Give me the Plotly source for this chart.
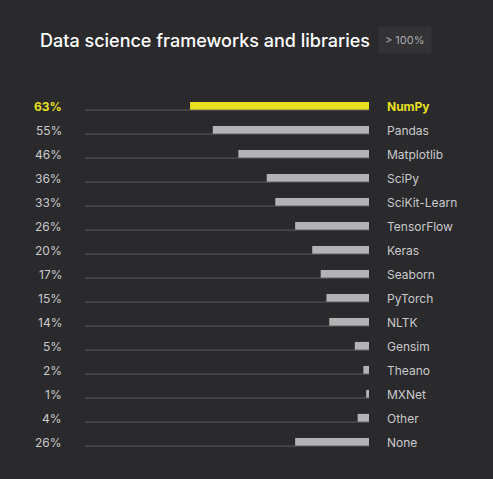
import plotly.graph_objects as go

libraries = ['NumPy', 'Pandas', 'Matplotlib', 'SciPy', 'SciKit-Learn', 'TensorFlow', 'Keras',
             'Seaborn', 'PyTorch', 'NLTK', 'Gensim', 'Theano', 'MXNet', 'Other', 'None']
shares = [63, 55, 46, 36, 33, 26, 20, 17, 15, 14, 5, 2, 1, 4, 26]
highlight = 'NumPy'

bg = '#2a2a2d'
yellow = '#e8e01f'
grey_bar = '#b3b3b5'
font = 'Inter, Liberation Sans, sans-serif'

rows = list(range(len(libraries)))
bar_w = 0.34

# thin baseline under every bar, across the full 100% track
line_x, line_y = [], []
for i in rows:
    line_x += [0, 100, None]
    line_y += [i + bar_w / 2, i + bar_w / 2, None]

fig = go.Figure()
fig.add_trace(go.Scatter(x=line_x, y=line_y, mode='lines',
                         line=dict(color='#5c5c60', width=1), hoverinfo='skip'))
fig.add_trace(go.Bar(
    x=shares, y=rows, orientation='h', width=bar_w,
    marker=dict(color=[yellow if n == highlight else grey_bar for n in libraries], line_width=0),
))

for i, (name, v) in enumerate(zip(libraries, shares)):
    hl = name == highlight
    c = yellow if hl else '#c9c9cb'
    fig.add_annotation(x=0, xref='paper', y=i, yref='y', xanchor='right', xshift=-21,
                       text=f'<b>{v}%</b>' if hl else f'{v}%', showarrow=False,
                       font=dict(family=font, size=12, color=c))
    fig.add_annotation(x=1, xref='paper', y=i, yref='y', xanchor='left', xshift=16,
                       text=f'<b>{name}</b>' if hl else name, showarrow=False,
                       font=dict(family=font, size=12, color=c))

# plot area is 284 px wide, 384 px tall; title row sits 42 px above it
title_y = 1 + 42 / 384
fig.add_annotation(x=(38 - 85) / 284, xref='paper', y=title_y, yref='paper',
                   xanchor='left', yanchor='middle', showarrow=False,
                   text='Data science frameworks and libraries',
                   font=dict(family=font, size=18, color='#ffffff', weight=500))
fig.add_annotation(x=(405 - 85) / 284, xref='paper', y=title_y, yref='paper',
                   xanchor='center', yanchor='middle', showarrow=False,
                   text='&gt; 100%', bgcolor='#333336', borderpad=6,
                   font=dict(family=font, size=11, color='#a9a9ab'))

fig.update_layout(
    width=493, height=479,
    margin=dict(l=85, r=124, t=82, b=13),
    paper_bgcolor=bg, plot_bgcolor=bg,
    showlegend=False,
    barmode='overlay',
    xaxis=dict(range=[100, 0], visible=False, fixedrange=True),
    yaxis=dict(range=[15, -1], visible=False, fixedrange=True),
)

fig.write_html('out.html', config={'displayModeBar': False},
               post_script="document.body.style.margin='0';document.body.style.background='#2a2a2d';")
